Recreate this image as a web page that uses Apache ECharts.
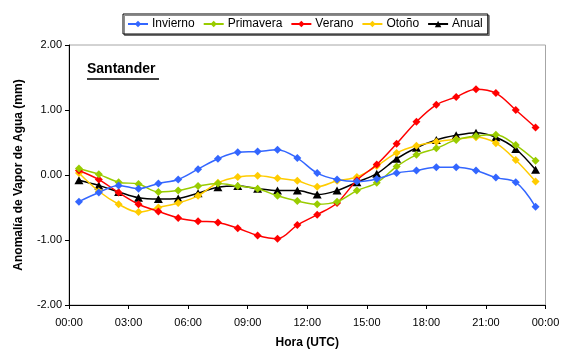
<!DOCTYPE html>
<html>
<head>
<meta charset="utf-8">
<script src="https://cdn.jsdelivr.net/npm/echarts@6/dist/echarts.min.js"></script>
<style>
  html, body { margin: 0; padding: 0; background: #fff; }
  #chart { width: 569px; height: 349px; }
</style>
</head>
<body>
<div id="chart"></div>
<script>
// Hourly means (half-hour centred) of water vapour anomaly, Santander
const hours = [0.5, 1.5, 2.5, 3.5, 4.5, 5.5, 6.5, 7.5, 8.5, 9.5, 10.5, 11.5,
               12.5, 13.5, 14.5, 15.5, 16.5, 17.5, 18.5, 19.5, 20.5, 21.5, 22.5, 23.5];

const invierno = [-0.41, -0.27, -0.16, -0.21, -0.13, -0.07, 0.09, 0.25, 0.35, 0.36, 0.39, 0.26,
                  0.03, -0.07, -0.10, -0.06, 0.03, 0.07, 0.12, 0.12, 0.07, -0.04, -0.11, -0.49];
const primavera = [0.10, 0.01, -0.11, -0.14, -0.26, -0.24, -0.17, -0.13, -0.17, -0.21, -0.32, -0.40,
                   -0.45, -0.41, -0.24, -0.12, 0.13, 0.31, 0.41, 0.54, 0.60, 0.62, 0.46, 0.22];
const verano = [0.07, -0.07, -0.27, -0.45, -0.56, -0.66, -0.71, -0.73, -0.82, -0.93, -0.98, -0.77,
                -0.61, -0.43, -0.08, 0.16, 0.48, 0.82, 1.08, 1.20, 1.32, 1.26, 1.00, 0.73];
const otono = [0.03, -0.25, -0.45, -0.57, -0.50, -0.43, -0.32, -0.12, -0.03, -0.01, -0.05, -0.09,
               -0.18, -0.09, -0.03, 0.14, 0.34, 0.45, 0.51, 0.55, 0.58, 0.49, 0.23, -0.10];
const anual = [-0.08, -0.16, -0.26, -0.35, -0.37, -0.36, -0.28, -0.19, -0.17, -0.21, -0.24, -0.24,
               -0.30, -0.24, -0.11, 0.02, 0.25, 0.42, 0.54, 0.61, 0.65, 0.58, 0.40, 0.08];

const seriesNames = ['Invierno', 'Primavera', 'Verano', 'Otoño', 'Anual'];
const seriesValues = [invierno, primavera, verano, otono, anual];
const seriesColors = ['#3366FF', '#99CC00', '#FF0000', '#FFCC00', '#000000'];

const FONT = '"Liberation Sans", Arial, sans-serif';
const DIAMOND = 'path://M5,0L10,5L5,10L0,5Z';
const TRIANGLE = 'path://M5,0L10,9L0,9Z';

const chart = echarts.init(document.getElementById('chart'), null, { renderer: 'canvas' });

const series = seriesNames.map((name, i) => ({
  name: name,
  type: 'line',
  data: hours.map((h, k) => [h, seriesValues[i][k]]),
  smooth: 0.35,
  symbol: name === 'Anual' ? TRIANGLE : DIAMOND,
  symbolSize: name === 'Anual' ? [9, 8] : [8, 8],
  showAllSymbol: true,
  lineStyle: { color: seriesColors[i], width: 1.5 },
  itemStyle: { color: seriesColors[i], borderWidth: 0 },
  emphasis: { disabled: true },
  z: 10 - i
}));

chart.setOption({
  animation: false,
  backgroundColor: '#ffffff',
  textStyle: { fontFamily: FONT },
  grid: {
    left: 69, right: 23.5, top: 45, bottom: 44,
    outerBoundsMode: 'none',
    containLabel: false,
    show: true, borderColor: '#a6a6a6', borderWidth: 1, backgroundColor: 'transparent'
  },
  legend: {
    data: seriesNames,
    left: 123, top: 14,
    orient: 'horizontal',
    itemWidth: 20, itemHeight: 8, itemGap: 8,
    padding: [4, 5, 4, 4],
    borderColor: '#000', borderWidth: 1, borderRadius: 0,
    backgroundColor: '#fff',
    shadowColor: 'rgba(0,0,0,0.45)', shadowOffsetX: 1.5, shadowOffsetY: 1.5, shadowBlur: 0,
    textStyle: { fontFamily: FONT, fontSize: 12, color: '#000', padding: [0, 0, 0, -1] }
  },
  xAxis: {
    type: 'value', min: 0, max: 24, interval: 3,
    name: 'Hora (UTC)', nameLocation: 'middle', nameGap: 32,
    nameTextStyle: { fontFamily: FONT, fontSize: 12, fontWeight: 'bold', color: '#000' },
    axisLine: { show: true, onZero: false, lineStyle: { color: '#000', width: 1 } },
    axisTick: { show: true, inside: false, length: 4, lineStyle: { color: '#000' } },
    axisLabel: {
      fontFamily: FONT, fontSize: 11, color: '#000', margin: 12,
      formatter: v => String(v % 24).padStart(2, '0') + ':00'
    },
    splitLine: { show: false }
  },
  yAxis: {
    type: 'value', min: -2, max: 2, interval: 1,
    name: 'Anomalía de Vapor de Agua (mm)', nameLocation: 'middle', nameGap: 44,
    nameTextStyle: { fontFamily: FONT, fontSize: 12, fontWeight: 'bold', color: '#000' },
    axisLine: { show: true, onZero: false, lineStyle: { color: '#000', width: 1 } },
    axisTick: { show: true, inside: false, length: 4, lineStyle: { color: '#000' } },
    axisLabel: {
      fontFamily: FONT, fontSize: 11, color: '#000', margin: 7,
      formatter: v => v.toFixed(2)
    },
    splitLine: { show: false }
  },
  graphic: [
    {
      type: 'text', left: 87, top: 62, z: 20,
      style: { text: 'Santander', font: 'bold 14px ' + FONT, fill: '#000' }
    },
    {
      type: 'line', z: 20,
      shape: { x1: 87, y1: 79, x2: 159, y2: 79 },
      style: { stroke: '#000', lineWidth: 1.5 }
    }
  ],
  series: series
});
</script>
</body>
</html>
